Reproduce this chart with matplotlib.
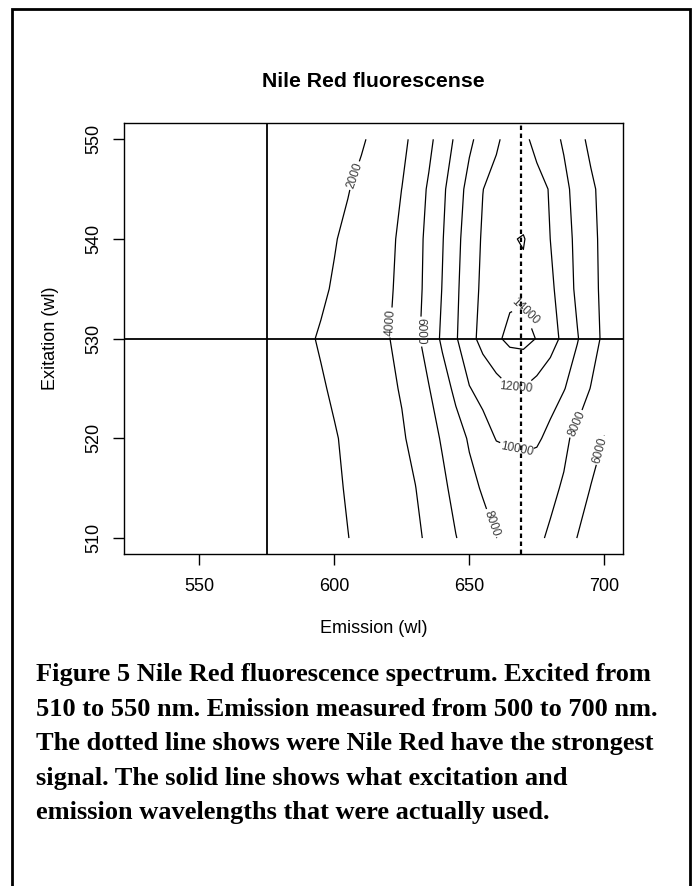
import numpy as np
import matplotlib.pyplot as plt
from matplotlib.patches import Rectangle

# Emission wavelengths (columns) and excitation wavelengths (rows)
emission = [530, 550, 570, 585, 590, 595, 600, 605, 610, 615, 620, 625, 630, 635,
            640, 645, 650, 655, 660, 665, 670, 675, 680, 685, 690, 695, 700]
excitation = [510, 515, 520, 525, 530, 535, 540, 545, 550]

# Fluorescence intensity, one row per excitation
ex510 = [120, 190, 400, 820, 1020, 1300, 1617, 1972, 2327, 2682, 3037, 3392, 3747, 4239,
         5094, 5949, 6639, 7319, 7990, 8300, 8500, 8300, 7766, 6866, 5964, 5064, 4164]
ex515 = [130, 200, 430, 880, 1100, 1400, 1757, 2125, 2493, 2860, 3228, 3596, 3963, 4769,
         5624, 6533, 7482, 8173, 8548, 8924, 9300, 8836, 8371, 7813, 6878, 5944, 5009]
ex520 = [140, 220, 480, 950, 1180, 1500, 1884, 2270, 2655, 3039, 3425, 3815, 4444, 5299,
         6182, 7192, 8200, 9200, 10080, 10220, 10270, 10250, 9550, 8380, 7515, 6780, 5950]
ex525 = [140, 230, 550, 1200, 1500, 1838, 2207, 2576, 2945, 3314, 3683, 4126, 5027, 5926,
         7136, 8441, 9912, 10606, 11251, 11900, 11950, 11333, 10717, 10100, 9055, 7933, 6808]
ex530 = [150, 250, 700, 1450, 1796, 2148, 2500, 2852, 3204, 3556, 3908, 4667, 5566, 6800,
         8328, 9821, 11354, 12624, 13699, 14436, 14561, 13931, 12782, 11543, 10114, 8850, 7600]
ex535 = [130, 200, 450, 1100, 1400, 1750, 2153, 2556, 2959, 3363, 3766, 4416, 5406, 6588,
         8065, 9677, 11081, 12400, 13100, 13600, 13700, 13200, 12400, 11000, 9642, 8590, 7538]
ex540 = [120, 180, 350, 800, 1050, 1450, 1903, 2345, 2788, 3230, 3673, 4274, 5326, 6500,
         7890, 9484, 10919, 12217, 13300, 13900, 14080, 13400, 11990, 10734, 9563, 8523, 7480]
ex545 = [110, 160, 280, 560, 750, 1000, 1397, 1917, 2437, 2957, 3477, 4010, 5087, 6225,
         7636, 9138, 10603, 11973, 12617, 13247, 13143, 12548, 11887, 10477, 9347, 8357, 7366]
ex550 = [100, 150, 250, 500, 650, 850, 1150, 1500, 1793, 2402, 3012, 3622, 4432, 5566,
         6886, 8297, 9648, 10733, 11723, 12706, 12375, 11513, 10672, 9775, 8650, 7527, 6400]

levels = [2000, 4000, 6000, 8000, 10000, 12000, 14000]
used_emission = 575
used_excitation = 530
peak_emission = 669

intensity = np.array([ex510, ex515, ex520, ex525, ex530, ex535, ex540, ex545, ex550])

plt.rcParams['font.family'] = ['Liberation Sans', 'DejaVu Sans']

fig = plt.figure(figsize=(6.98, 8.86), dpi=100)
ax = fig.add_axes([0.1781, 0.3747, 0.714, 0.4861])

cs = ax.contour(emission, excitation, intensity, levels=levels,
                colors='black', linewidths=0.9)
label_spots = [(607, 546.4), (622.1, 531.6), (632.4, 530.7), (669.4, 532.6),
               (667.2, 525.0), (666.9, 518.4), (658.3, 511.5), (688.5, 521.6),
               (697.2, 518.9)]
ax.clabel(cs, fmt='%d', fontsize=8.6, colors='#3a3a3a', inline=True,
          inline_spacing=3, manual=label_spots)

ax.axvline(used_emission, color='black', lw=1.3)
ax.axhline(used_excitation, color='black', lw=1.3)
ax.axvline(peak_emission, color='black', lw=1.6, linestyle=(0, (2, 1.6)))

ax.set_xlim(522.2, 706.8)
ax.set_ylim(508.4, 551.6)
ax.set_xticks([550, 600, 650, 700])
ax.set_yticks([510, 520, 530, 540, 550])
ax.tick_params(axis='both', direction='out', length=8, width=1.0, labelsize=13)
ax.tick_params(axis='x', pad=9)
ax.tick_params(axis='y', pad=8)
for lab in ax.get_yticklabels():
    lab.set_rotation(90)
    lab.set_va('center')
for s in ax.spines.values():
    s.set_linewidth(1.0)

ax.set_xlabel('Emission (wl)', fontsize=13)
ax.xaxis.set_label_coords(0.5, -0.153)
ax.set_ylabel('Exitation (wl)', fontsize=13)
ax.yaxis.set_label_coords(-0.132, 0.5)
ax.set_title('Nile Red fluorescense', fontsize=15.3, fontweight='bold', y=1.085, pad=0)

# outer frame of the figure
fig.add_artist(Rectangle((12 / 698, -0.05), 678 / 698, 1.05 - 9 / 886, fill=False,
                         lw=2, edgecolor='black', transform=fig.transFigure))

caption = ["Figure 5 Nile Red fluorescence spectrum. Excited from",
           "510 to 550 nm. Emission measured from 500 to 700 nm.",
           "The dotted line shows were Nile Red have the strongest",
           "signal. The solid line shows what excitation and",
           "emission wavelengths that were actually used."]
for i, line in enumerate(caption):
    fig.text(35.6 / 698, 1 - (681 + 34.5 * i) / 886, line, family='Liberation Serif',
             fontweight='bold', fontsize=19, va='baseline', ha='left')

fig.savefig('out.png', dpi=100)
